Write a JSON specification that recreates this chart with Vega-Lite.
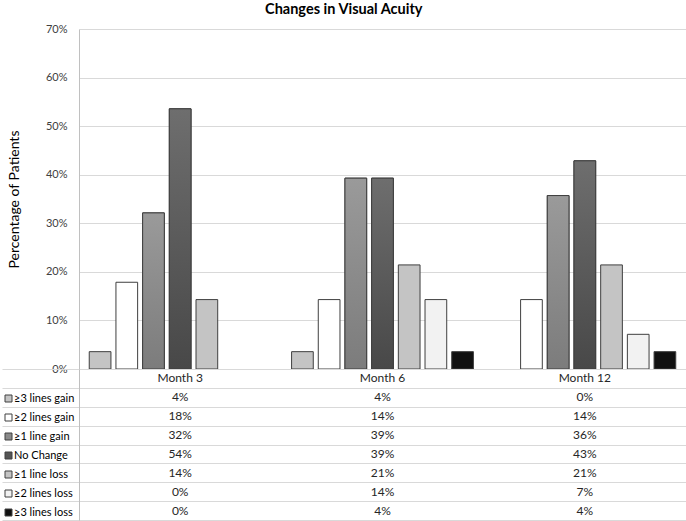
{
  "$schema": "https://vega.github.io/schema/vega-lite/v6.json",
  "padding": {"left": 1, "top": 1, "right": 0, "bottom": 0},
  "background": "white",
  "title": {"text": "Changes in Visual Acuity", "font": "Lato", "fontSize": 14.5, "fontWeight": "bold", "color": "#000000", "anchor": "middle", "offset": 6},
  "datasets": {
    "va": [
      {"month": "Month 3", "series": "≥3 lines gain", "pct": 0.0357},
      {"month": "Month 3", "series": "≥2 lines gain", "pct": 0.1786},
      {"month": "Month 3", "series": "≥1 line gain", "pct": 0.3214},
      {"month": "Month 3", "series": "No Change", "pct": 0.5357},
      {"month": "Month 3", "series": "≥1 line loss", "pct": 0.1429},
      {"month": "Month 3", "series": "≥2 lines loss", "pct": 0},
      {"month": "Month 3", "series": "≥3 lines loss", "pct": 0},
      {"month": "Month 6", "series": "≥3 lines gain", "pct": 0.0357},
      {"month": "Month 6", "series": "≥2 lines gain", "pct": 0.1429},
      {"month": "Month 6", "series": "≥1 line gain", "pct": 0.3929},
      {"month": "Month 6", "series": "No Change", "pct": 0.3929},
      {"month": "Month 6", "series": "≥1 line loss", "pct": 0.2143},
      {"month": "Month 6", "series": "≥2 lines loss", "pct": 0.1429},
      {"month": "Month 6", "series": "≥3 lines loss", "pct": 0.0357},
      {"month": "Month 12", "series": "≥3 lines gain", "pct": 0},
      {"month": "Month 12", "series": "≥2 lines gain", "pct": 0.1429},
      {"month": "Month 12", "series": "≥1 line gain", "pct": 0.3571},
      {"month": "Month 12", "series": "No Change", "pct": 0.4286},
      {"month": "Month 12", "series": "≥1 line loss", "pct": 0.2143},
      {"month": "Month 12", "series": "≥2 lines loss", "pct": 0.0714},
      {"month": "Month 12", "series": "≥3 lines loss", "pct": 0.0357}
    ]
  },
  "data": {"name": "va"},
  "spacing": 0,
  "bounds": "flush",
  "resolve": {"scale": {"color": "independent", "fill": "independent"}},
  "vconcat": [
    {
      "width": 607,
      "height": 340,
      "view": {"stroke": null},
      "encoding": {
        "x": {"field": "month", "type": "nominal", "sort": ["Month 3", "Month 6", "Month 12"], "scale": {"paddingInner": 0, "paddingOuter": 0}, "axis": null},
        "xOffset": {"field": "series", "type": "nominal", "scale": {"domain": ["≥3 lines gain", "≥2 lines gain", "≥1 line gain", "No Change", "≥1 line loss", "≥2 lines loss", "≥3 lines loss"], "paddingInner": 0.187, "paddingOuter": 0.384}},
        "y": {"field": "pct", "type": "quantitative", "scale": {"domain": [0, 0.7]},
          "axis": {"format": ".0%", "values": [0, 0.1, 0.2, 0.3, 0.4, 0.5, 0.6, 0.7], "title": "Percentage of Patients", "titleFont": "Lato", "titleFontSize": 14, "titleFontWeight": "normal", "titleColor": "#000000", "titlePadding": 24, "labelFont": "Lato", "labelFontSize": 11, "labelColor": "#404040", "labelPadding": 12, "ticks": false, "domain": true, "domainColor": "#c0c0c0", "grid": true, "gridColor": "#d9d9d9"}}
      },
      "layer": [
        {
          "transform": [{"filter": "datum.pct > 0"}],
          "mark": {"type": "bar", "stroke": "#3f3f3f", "strokeWidth": 1},
          "encoding": {
            "fill": {"field": "series", "type": "nominal",
              "scale": {"domain": ["≥3 lines gain", "≥2 lines gain", "≥1 line gain", "No Change", "≥1 line loss", "≥2 lines loss", "≥3 lines loss"], "range": ["#c4c4c4", "#ffffff", "#8a8a8a", "#555555", "#c4c4c4", "#f2f2f2", "#111111"]},
              "legend": {"orient": "none", "legendX": -76, "legendY": 364, "title": null, "symbolType": "square", "symbolSize": 49, "symbolStrokeColor": "#404040", "symbolStrokeWidth": 1, "symbolOpacity": 1, "labelFont": "Lato", "labelFontSize": 11, "labelColor": "#000000", "labelOffset": 0, "rowPadding": 7, "padding": 0}}
          }
        },
        {
          "transform": [{"filter": "datum.series === '≥1 line gain'"}],
          "mark": {"type": "bar", "stroke": "#3f3f3f", "strokeWidth": 1, "fill": {"gradient": "linear", "x1": 0, "y1": 0, "x2": 0, "y2": 1, "stops": [{"offset": 0, "color": "#9a9a9a"}, {"offset": 1, "color": "#7c7c7c"}]}},
          "encoding": {}
        },
        {
          "transform": [{"filter": "datum.series === 'No Change'"}],
          "mark": {"type": "bar", "stroke": "#3f3f3f", "strokeWidth": 1, "fill": {"gradient": "linear", "x1": 0, "y1": 0, "x2": 0, "y2": 1, "stops": [{"offset": 0, "color": "#6e6e6e"}, {"offset": 1, "color": "#484848"}]}},
          "encoding": {}
        }
      ]
    },
    {
      "width": 607,
      "height": 151,
      "view": {"stroke": "#bfbfbf"},
      "encoding": {
        "x": {"field": "month", "type": "nominal", "sort": ["Month 3", "Month 6", "Month 12"], "scale": {"paddingInner": 0, "paddingOuter": 0}, "axis": null}
      },
      "layer": [
        {
          "mark": {"type": "text", "font": "Lato", "fontSize": 12, "color": "#262626"},
          "encoding": {
            "y": {"field": "series", "type": "nominal",
              "scale": {"domain": ["Header", "≥3 lines gain", "≥2 lines gain", "≥1 line gain", "No Change", "≥1 line loss", "≥2 lines loss", "≥3 lines loss"], "paddingInner": 0, "paddingOuter": 0},
              "axis": {"labels": false, "title": null, "tickBand": "extent", "ticks": true, "tickSize": 77, "tickColor": "#d9d9d9", "grid": true, "gridColor": "#d9d9d9", "domain": true, "domainColor": "#bfbfbf"}},
            "text": {"field": "pct", "type": "quantitative", "format": ".0%"}
          }
        },
        {
          "transform": [{"filter": "datum.series === '≥3 lines gain'"}],
          "mark": {"type": "text", "font": "Lato", "fontSize": 12, "color": "#262626"},
          "encoding": {
            "y": {"datum": "Header", "type": "nominal"},
            "text": {"field": "month", "type": "nominal"}
          }
        }
      ]
    }
  ],
  "config": {"font": "Lato", "view": {"stroke": null}}
}
